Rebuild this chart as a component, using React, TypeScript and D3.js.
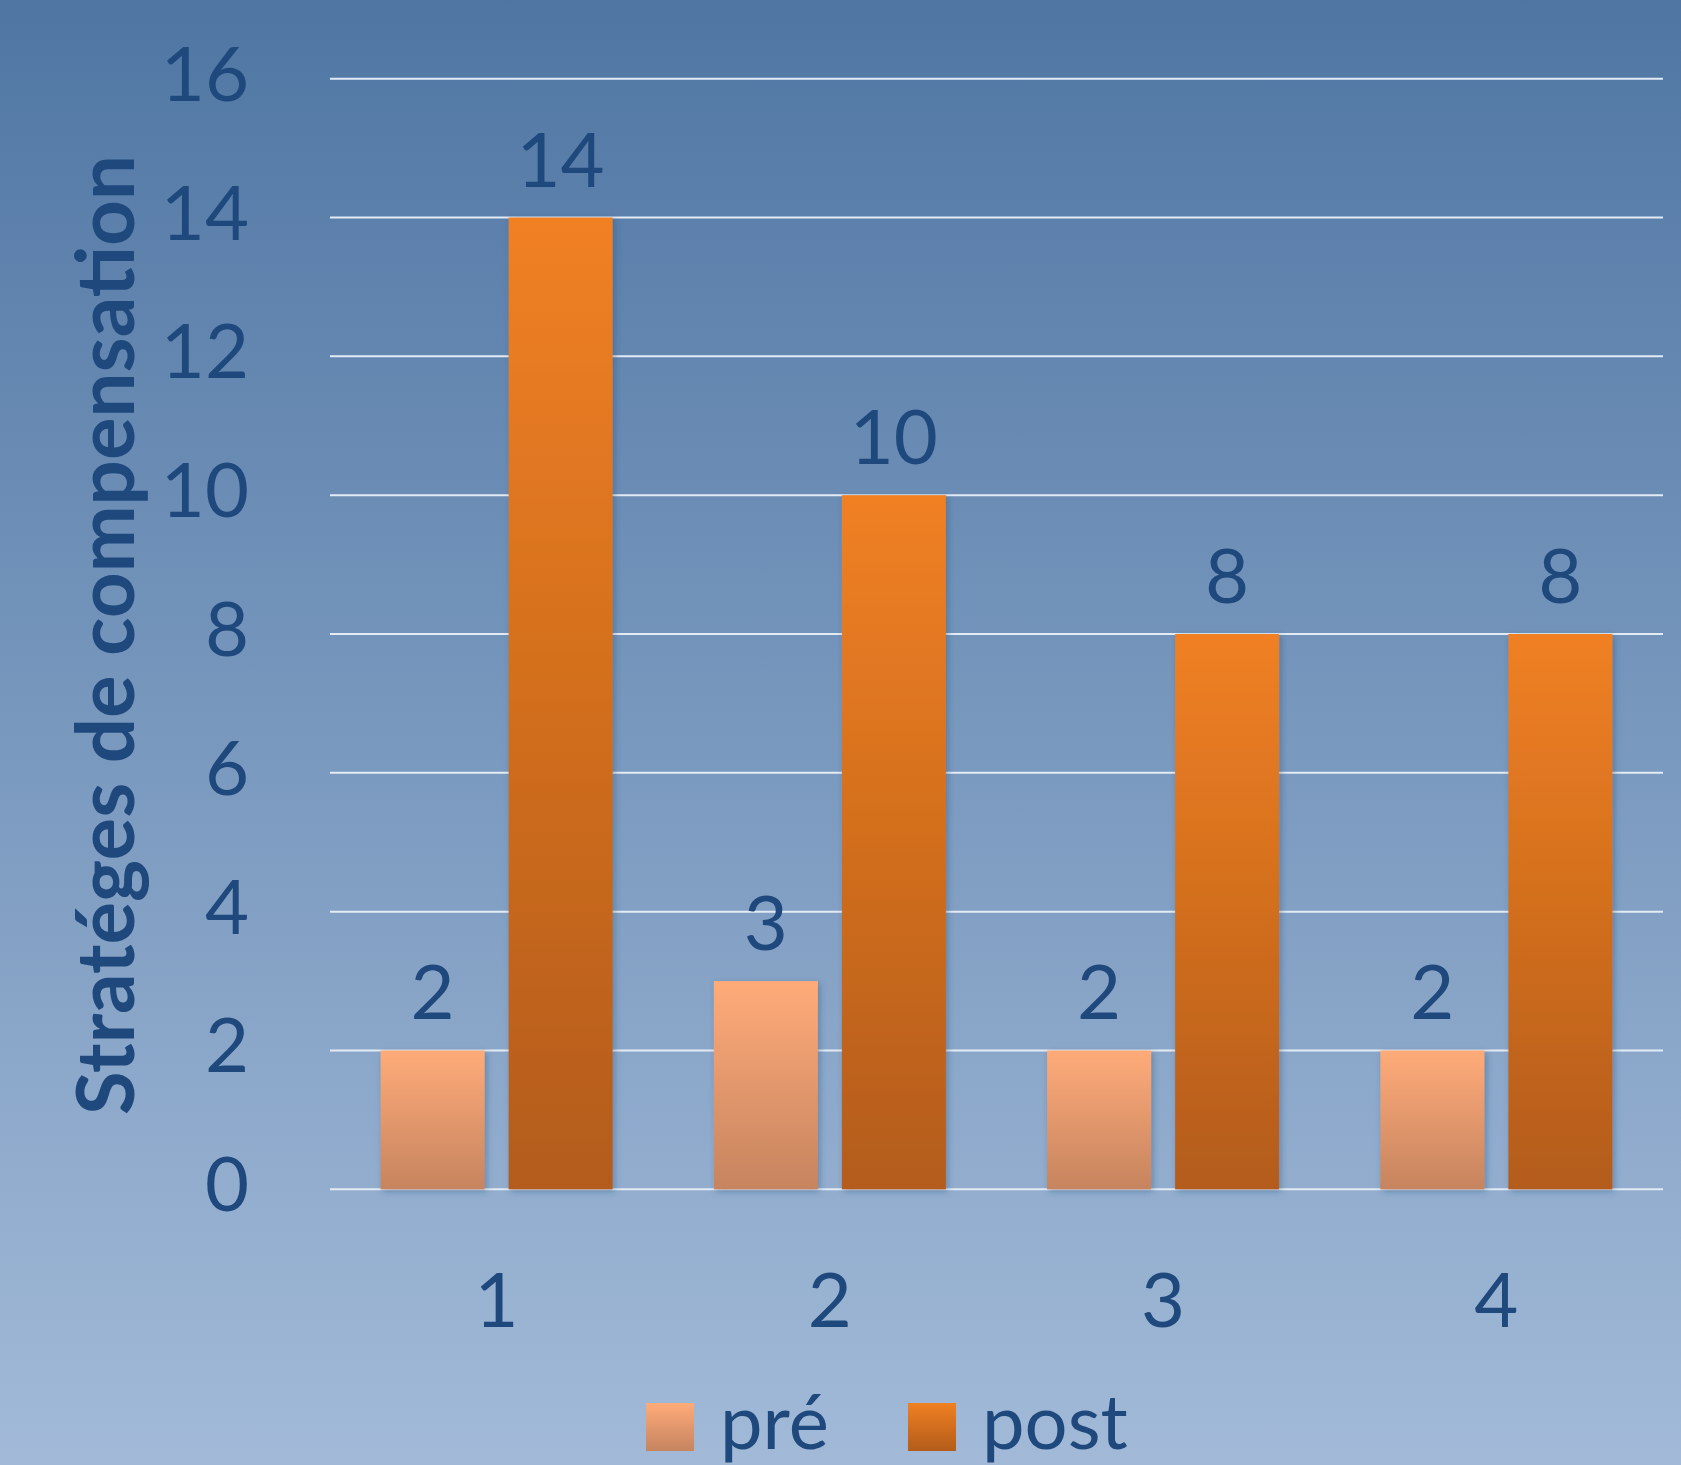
import React from 'react';
import * as d3 from 'd3';

const categories = ['1', '2', '3', '4'];
const seriesNames = ['pré', 'post'];
const preValues = [2, 3, 2, 2];
const postValues = [14, 10, 8, 8];
const yTicks = [0, 2, 4, 6, 8, 10, 12, 14, 16];
const yTitle = 'Stratéges de compensation';

const W = 1681;
const H = 1465;
const FONT = 'Lato, "Open Sans", sans-serif';
const TEXT = '#1f497d';

const App: React.FC = () => {
  const x0 = d3.scaleBand<string>().domain(categories).range([330, 1663]).padding(0);
  const x1 = d3.scaleBand<string>()
    .domain(seriesNames)
    .range([0, x0.bandwidth()])
    .paddingInner(0.1875)
    .paddingOuter(0.3955);
  const y = d3.scaleLinear().domain([0, 16]).range([1189.3, 78.7]);

  const values: Record<string, number[]> = { 'pré': preValues, post: postValues };
  const fills: Record<string, string> = { 'pré': 'url(#gPre)', post: 'url(#gPost)' };

  return (
    <div style={{ position: 'absolute', left: 0, top: 0 }}>
      <svg width={W} height={H} style={{ display: 'block' }}>
        <defs>
          <linearGradient id="bg" x1="0" y1="0" x2="0" y2="1">
            <stop offset="0" stopColor="#4f76a3" />
            <stop offset="1" stopColor="#a2bad8" />
          </linearGradient>
          <linearGradient id="gPre" x1="0" y1="0" x2="0" y2="1">
            <stop offset="0" stopColor="#ffab79" />
            <stop offset="1" stopColor="#c6845f" />
          </linearGradient>
          <linearGradient id="gPost" x1="0" y1="0" x2="0" y2="1">
            <stop offset="0" stopColor="#f08022" />
            <stop offset="1" stopColor="#b35c1a" />
          </linearGradient>
          <filter id="shadow" x="-10%" y="-10%" width="130%" height="130%">
            <feDropShadow dx="2" dy="2" stdDeviation="3" floodColor="#1f3f66" floodOpacity="0.35" />
          </filter>
        </defs>
        <rect x={0} y={0} width={W} height={H} fill="url(#bg)" />

        {/* gridlines */}
        {yTicks.map(t => (
          <line key={t} x1={330} x2={1663} y1={y(t)} y2={y(t)} stroke="#e3ebf5" strokeWidth={2} />
        ))}

        {/* y tick labels */}
        {yTicks.map(t => (
          <text key={'yl' + t} x={249} y={y(t) + 22} textAnchor="end"
            fontFamily={FONT} fontSize={76} fill={TEXT}>{t}</text>
        ))}

        {/* axis title */}
        <text transform={`translate(134,635) rotate(-90)`} textAnchor="middle"
          fontFamily={FONT} fontSize={80} fontWeight="bold" fill={TEXT}
          textLength={960} lengthAdjust="spacingAndGlyphs">{yTitle}</text>

        {/* bars */}
        {categories.map((c, i) => (
          <g key={c} transform={`translate(${x0(c)},0)`}>
            {seriesNames.map(s => {
              const v = values[s][i];
              const bx = x1(s)!;
              return (
                <g key={s}>
                  <rect x={bx} y={y(v)} width={x1.bandwidth()} height={y(0) - y(v)}
                    fill={fills[s]} filter="url(#shadow)" />
                  <text x={bx + x1.bandwidth() / 2} y={y(v) - 31} textAnchor="middle"
                    fontFamily={FONT} fontSize={76} fill={TEXT}>{v}</text>
                </g>
              );
            })}
            <text x={x0.bandwidth() / 2} y={1327} textAnchor="middle"
              fontFamily={FONT} fontSize={76} fill={TEXT}>{c}</text>
          </g>
        ))}

        {/* legend */}
        <rect x={646} y={1403} width={48} height={48} fill="url(#gPre)" />
        <text x={720} y={1449} fontFamily={FONT} fontSize={76} fill={TEXT}>{seriesNames[0]}</text>
        <rect x={908} y={1403} width={48} height={48} fill="url(#gPost)" />
        <text x={982} y={1449} fontFamily={FONT} fontSize={76} fill={TEXT}>{seriesNames[1]}</text>
      </svg>
    </div>
  );
};

export default App;
